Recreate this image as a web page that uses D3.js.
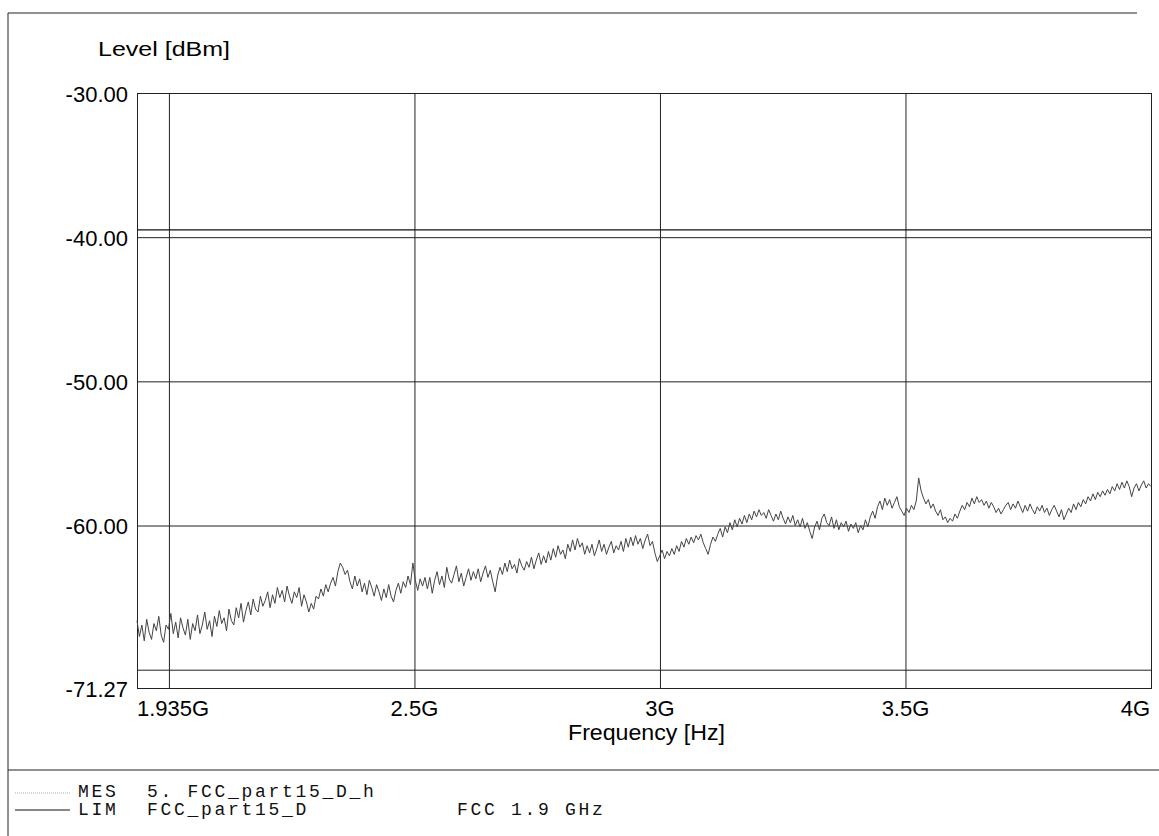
<!DOCTYPE html>
<html>
<head>
<meta charset="utf-8">
<script src="https://cdn.jsdelivr.net/npm/d3@7"></script>
<style>
  body { margin: 0; background: #fff; }
  svg { display: block; }
</style>
</head>
<body>
<div id="chart"></div>
<script>
// sweep of the receiver, GHz
const sweepStart = 1.935
const sweepStop = 4.0

// MES trace, dBm, one value per sweep point (20 per row)
const mesLevels = [
  -66.6, -67.7, -66.9, -68.0, -66.5, -67.4, -67.9, -66.8, -67.3, -66.3, -67.6, -68.1, -66.9, -67.2, -66.1, -67.5, -66.7, -67.8, -66.4, -67.1,
  -67.6, -66.5, -67.9, -66.8, -67.3, -66.2, -67.5, -66.9, -66.0, -67.2, -66.6, -67.7, -66.3, -67.0, -65.9, -66.8, -66.4, -67.3, -65.8, -66.6,
  -66.9, -65.7, -66.4, -65.4, -66.7, -65.9, -65.3, -66.2, -65.1, -65.8, -66.0, -64.9, -65.6, -65.2, -64.6, -65.7, -64.8, -65.4, -64.3, -65.0,
  -64.5, -65.3, -64.2, -64.9, -65.4, -64.6, -65.0, -64.3, -65.6, -64.8, -65.3, -66.0, -65.4, -65.8, -64.9, -65.1, -64.4, -64.9, -64.1, -64.6,
  -64.0, -63.6, -64.2, -63.2, -62.6, -62.9, -63.4, -63.1, -63.9, -64.4, -63.5, -64.2, -63.7, -64.6, -64.0, -64.8, -63.8, -64.3, -64.9, -64.1,
  -64.6, -65.2, -64.4, -65.0, -64.1, -64.9, -65.3, -64.5, -64.0, -64.7, -63.9, -64.3, -63.5, -64.1, -62.6, -63.8, -64.5, -63.7, -64.2, -63.6,
  -64.4, -63.6, -64.7, -63.8, -63.2, -64.1, -63.5, -64.3, -62.9, -63.7, -64.0, -63.4, -62.8, -63.9, -63.3, -64.2, -63.6, -63.0, -63.8, -63.2,
  -63.7, -63.0, -63.9, -63.3, -62.8, -63.6, -63.1, -63.9, -64.6, -63.5, -62.9, -63.4, -62.6, -63.2, -62.4, -63.0, -62.7, -63.3, -62.3, -62.8,
  -63.1, -62.5, -62.9, -62.2, -63.0, -62.4, -61.9, -62.7, -62.1, -62.6, -61.8, -62.4, -61.6, -62.2, -61.4, -62.0, -61.7, -62.3, -61.3, -61.8,
  -61.0, -61.7, -60.9, -61.5, -61.2, -62.0, -61.4, -61.9, -61.3, -62.1, -61.6, -61.0, -61.8, -61.3, -62.0, -61.5, -61.1, -61.9, -61.4, -61.7,
  -61.1, -61.8, -60.9, -61.5, -60.8, -61.4, -60.7, -61.3, -60.9, -61.6, -61.0, -60.6, -61.4, -61.1, -61.9, -62.5, -62.1, -61.7, -62.3, -61.8,
  -62.1, -61.6, -62.0, -61.4, -61.8, -61.1, -61.5, -60.9, -61.3, -60.8, -61.2, -60.7, -61.0, -60.6, -61.2, -61.6, -62.0, -61.3, -60.8, -61.1,
  -60.6, -60.2, -60.8, -60.1, -60.5, -59.8, -60.3, -59.6, -60.1, -59.5, -59.9, -59.3, -59.8, -59.2, -59.6, -59.0, -59.4, -58.9, -59.3, -59.1,
  -59.5, -58.9, -59.3, -59.7, -59.2, -59.6, -59.0, -59.5, -59.9, -59.4, -59.8, -59.3, -60.0, -59.6, -60.1, -59.5, -60.2, -59.8, -60.4, -60.9,
  -60.1, -59.7, -60.3, -59.5, -59.2, -59.8, -60.0, -59.4, -60.2, -59.6, -60.3, -59.8, -60.1, -59.7, -60.4, -59.9, -60.2, -59.8, -60.5, -60.0,
  -60.3, -59.6, -60.1, -59.4, -59.0, -59.5, -58.7, -58.3, -58.9, -58.1, -58.6, -58.2, -58.8, -58.4, -58.0, -58.7, -59.0, -59.3, -58.8, -59.1,
  -58.6, -58.9, -58.3, -56.7, -57.6, -58.1, -58.5, -58.2, -58.8, -58.5, -59.0, -59.3, -58.9, -59.6, -59.4, -59.8, -59.5, -59.7, -59.2, -59.5,
  -59.0, -58.6, -58.9, -58.4, -58.7, -58.1, -58.5, -58.0, -58.4, -58.2, -58.6, -58.3, -58.8, -58.4, -58.7, -59.1, -58.8, -59.2, -58.9, -58.6,
  -58.4, -58.9, -58.5, -58.8, -58.3, -58.7, -59.1, -58.6, -59.0, -58.5, -58.9, -59.2, -58.7, -59.0, -58.6, -59.1, -58.8, -59.3, -58.9, -58.6,
  -59.0, -59.4, -58.9, -59.6, -59.2, -58.8, -59.1, -58.5, -58.9, -58.4, -58.7, -58.2, -58.5, -58.0, -58.3, -57.8, -58.2, -57.7, -58.0, -57.6,
  -57.9, -57.5, -57.8, -57.3, -57.6, -57.1, -57.5, -57.0, -57.4, -56.9, -57.3, -58.0, -57.4, -57.1, -57.6, -57.2, -56.9, -57.4, -57.1, -57.3
]

// LIM line, dBm
const limitLevels = [-39.5]

// axes
const levelTicks = [-30, -40, -50, -60, -70]
const levelLabels = ["-30.00", "-40.00", "-50.00", "-60.00", "", "-71.27"]
const levelMin = -71.27
const freqTicks = [2.0, 2.5, 3.0, 3.5, 4.0]
const freqLabels = ["1.935G", "2.5G", "3G", "3.5G", "4G"]

// legend rows
const legendTypes = ["MES", "LIM"]
const legendNames = ["5. FCC_part15_D_h", "FCC_part15_D"]
const legendNotes = ["", "FCC 1.9 GHz"]

const W = 1159
const H = 836
const PLOT = { LEFT: 137, RIGHT: 1151, TOP: 93, BOTTOM: 688 }
const SANS = "'Liberation Sans', Arial, sans-serif"
const MONO = "'Liberation Mono', 'Courier New', monospace"

const svg = d3.select("#chart")
    .append("svg")
    .attr("width", W)
    .attr("height", H)

const x = d3.scaleLinear()
    .domain([sweepStart, sweepStop])
    .range([PLOT.LEFT, PLOT.RIGHT])

const y = d3.scaleLinear()
    .domain([levelMin, -30])
    .range([PLOT.BOTTOM, PLOT.TOP])

// sample index -> frequency
const idx = d3.scaleLinear()
    .domain([0, mesLevels.length - 1])
    .range([sweepStart, sweepStop])

// outer frame of the printout
svg.append("line")
    .attr("x1", 8).attr("x2", 1137).attr("y1", 13).attr("y2", 13)
    .attr("stroke", "#222").attr("stroke-width", 1)
svg.append("line")
    .attr("x1", 8).attr("x2", 8).attr("y1", 13).attr("y2", H)
    .attr("stroke", "#222").attr("stroke-width", 1)
svg.append("line")
    .attr("x1", 8).attr("x2", W).attr("y1", 770).attr("y2", 770)
    .attr("stroke", "#222").attr("stroke-width", 1)

// grid, drawn with axes so the lines come from the scales
svg.append("g")
    .attr("transform", "translate(0," + PLOT.BOTTOM + ")")
    .call(d3.axisBottom(x)
        .tickValues(freqTicks)
        .tickSize(-(PLOT.BOTTOM - PLOT.TOP))
        .tickFormat(""))
    .call(g => g.select(".domain").remove())
    .call(g => g.selectAll("line").attr("stroke", "#222"))

svg.append("g")
    .attr("transform", "translate(" + PLOT.LEFT + ",0)")
    .call(d3.axisLeft(y)
        .tickValues(levelTicks)
        .tickSize(-(PLOT.RIGHT - PLOT.LEFT))
        .tickFormat(""))
    .call(g => g.select(".domain").remove())
    .call(g => g.selectAll("line").attr("stroke", "#222"))

// plot frame
svg.append("rect")
    .attr("x", PLOT.LEFT + 0.5)
    .attr("y", PLOT.TOP + 0.5)
    .attr("width", PLOT.RIGHT - PLOT.LEFT)
    .attr("height", PLOT.BOTTOM - PLOT.TOP)
    .attr("fill", "none")
    .attr("stroke", "#222")

// y tick labels
const yLabelVals = levelTicks.concat([levelMin])
svg.selectAll(".ylab")
    .data(yLabelVals)
    .enter().append("text")
    .attr("class", "ylab")
    .attr("x", 128)
    .attr("y", d => y(d) + 8.5)
    .attr("text-anchor", "end")
    .attr("font-family", SANS)
    .attr("font-size", 22)
    .text((d, i) => levelLabels[i])

// x tick labels, first one sits at the sweep start
svg.selectAll(".xlab")
    .data(freqTicks)
    .enter().append("text")
    .attr("class", "xlab")
    .attr("x", (d, i) => i == 0 ? x(sweepStart) : (i == freqTicks.length - 1 ? x(d) - 1 : x(d)))
    .attr("y", 716)
    .attr("text-anchor", (d, i) => i == 0 ? "start" : (i == freqTicks.length - 1 ? "end" : "middle"))
    .attr("font-family", SANS)
    .attr("font-size", 22)
    .text((d, i) => freqLabels[i])

// axis titles
svg.append("text")
    .attr("x", 98)
    .attr("y", 56)
    .attr("font-family", SANS)
    .attr("font-size", 20)
    .attr("textLength", 132)
    .attr("lengthAdjust", "spacingAndGlyphs")
    .text("Level [dBm]")

svg.append("text")
    .attr("x", 568)
    .attr("y", 740)
    .attr("font-family", SANS)
    .attr("font-size", 22)
    .attr("textLength", 157)
    .attr("lengthAdjust", "spacingAndGlyphs")
    .text("Frequency [Hz]")

// limit line
svg.selectAll(".lim")
    .data(limitLevels)
    .enter().append("line")
    .attr("class", "lim")
    .attr("x1", x(sweepStart)).attr("x2", x(sweepStop))
    .attr("y1", d => y(d)).attr("y2", d => y(d))
    .attr("stroke", "#111")
    .attr("stroke-width", 1.2)

// measured trace
const line = d3.line()
    .x((d, i) => x(idx(i)))
    .y(d => y(d))

svg.append("path")
    .datum(mesLevels)
    .attr("d", line)
    .attr("fill", "none")
    .attr("stroke", "#444")
    .attr("stroke-width", 1)

// legend
const rowY = [797, 815]
const sampleY = [793, 810]

svg.selectAll(".lsample")
    .data(legendTypes)
    .enter().append("line")
    .attr("class", "lsample")
    .attr("x1", 15).attr("x2", 70)
    .attr("y1", (d, i) => sampleY[i]).attr("y2", (d, i) => sampleY[i])
    .attr("stroke", (d, i) => i == 0 ? "#999" : "#111")
    .attr("stroke-width", (d, i) => i == 0 ? 0.8 : 1.2)
    .attr("stroke-dasharray", (d, i) => i == 0 ? "1,1" : null)

const leg = svg.selectAll(".lrow")
    .data(legendTypes)
    .enter().append("g")
    .attr("class", "lrow")
    .attr("font-family", MONO)
    .attr("font-size", 18)
    .attr("letter-spacing", 2.7)
    .attr("fill", "#111")

leg.append("text").attr("x", 78).attr("y", (d, i) => rowY[i]).text(d => d)
leg.append("text").attr("x", 147).attr("y", (d, i) => rowY[i]).text((d, i) => legendNames[i])
leg.append("text").attr("x", 457).attr("y", (d, i) => rowY[i]).text((d, i) => legendNotes[i])
</script>
</body>
</html>
